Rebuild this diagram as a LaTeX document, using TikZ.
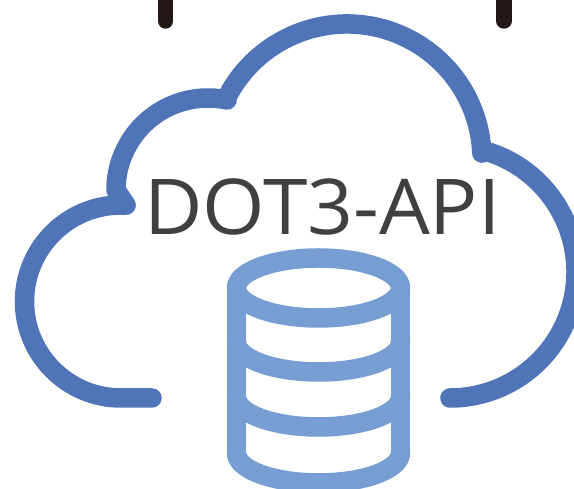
\documentclass[tikz,border=0pt]{standalone}
\usepackage{fontspec}
\setmainfont{Open Sans}
\definecolor{cloudblue}{HTML}{4F74B8}
\definecolor{dbblue}{HTML}{769ED3}
\definecolor{tickblack}{HTML}{231815}
\definecolor{labelgrey}{HTML}{404040}
\tikzset{
  cloudline/.style={draw=cloudblue,line width=19.5pt,line cap=round,line join=round},
  dbline/.style={draw=dbblue,line width=19.5pt,line cap=round,line join=round},
  tickline/.style={draw=tickblack,line width=15.5pt,line cap=round},
  labeltext/.style={text=labelgrey,font=\fontsize{77pt}{77pt}\selectfont,inner sep=0pt,xscale=1.042}
}
\begin{document}
\begin{tikzpicture}[x=1pt,y=1pt]
\useasboundingbox (0,0) rectangle (574,489);
\clip (0,0) rectangle (574,489);
\fill[white] (0,0) rectangle (574,489);
% hanging ticks
\draw[tickline] (165.5,500) -- (165.5,468);
\draw[tickline] (504,500) -- (504,468);
% cloud
\draw[cloudline] (152,91) -- (121,91)
  arc[start angle=-90,end angle=-273,radius=96.5]
  -- (116,299)
  arc[start angle=180,end angle=78,radius=92]
  -- (226.7,391.3)
  arc[start angle=153,end angle=2.5,radius=135]
  -- (482.6,338.7)
  arc[start angle=75,end angle=-90,radius=126]
  -- (450,91);
% database
\draw[dbline] (318.5,201) ellipse [x radius=82,y radius=30];
\draw[dbline] (236.5,201) -- (236.5,36);
\draw[dbline] (400.5,201) -- (400.5,36);
\draw[dbline] (236.5,147) arc[start angle=180,end angle=360,x radius=82,y radius=30];
\draw[dbline] (236.5,92) arc[start angle=180,end angle=360,x radius=82,y radius=30];
\draw[dbline] (236.5,36) arc[start angle=180,end angle=360,x radius=82,y radius=30];
% label
\node[labeltext,anchor=base] (label) at (322.5,254) {DOT3-API};
\end{tikzpicture}
\end{document}
